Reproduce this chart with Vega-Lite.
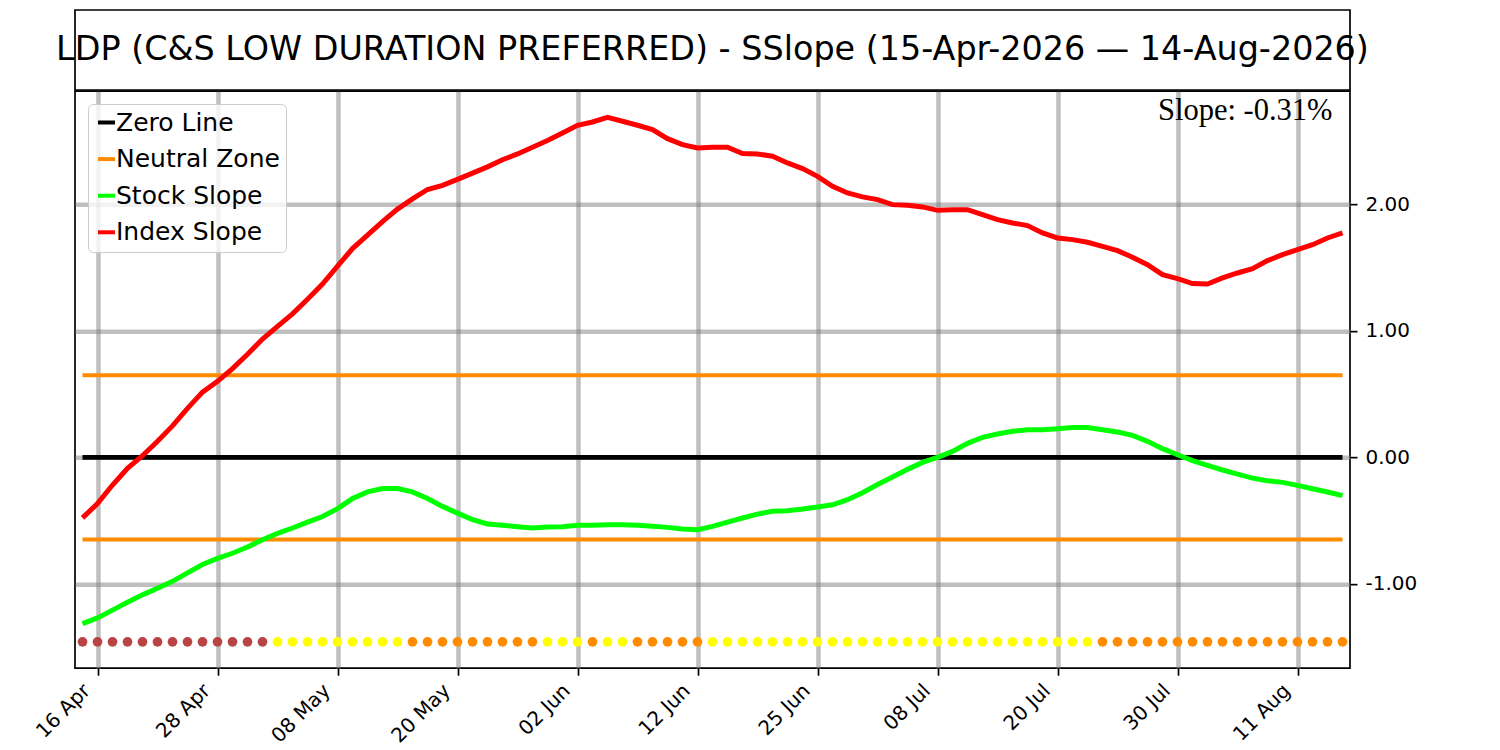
{
  "$schema": "https://vega.github.io/schema/vega-lite/v6.json",
  "background": "white",
  "padding": {"left": 31, "top": 9, "right": 5, "bottom": 5},
  "config": {
    "font": "DejaVu Sans",
    "concat": {"spacing": -0.85},
    "view": {"stroke": "black", "strokeWidth": 1.7}
  },
  "datasets": {
    "slopes": [
      {"date": "2026-04-15", "stock": -1.316, "index": -0.479, "trend": "below"},
      {"date": "2026-04-16", "stock": -1.27, "index": -0.366, "trend": "below"},
      {"date": "2026-04-17", "stock": -1.209, "index": -0.219, "trend": "below"},
      {"date": "2026-04-20", "stock": -1.147, "index": -0.086, "trend": "below"},
      {"date": "2026-04-21", "stock": -1.088, "index": 0.013, "trend": "below"},
      {"date": "2026-04-22", "stock": -1.035, "index": 0.128, "trend": "below"},
      {"date": "2026-04-23", "stock": -0.981, "index": 0.249, "trend": "below"},
      {"date": "2026-04-24", "stock": -0.914, "index": 0.388, "trend": "below"},
      {"date": "2026-04-27", "stock": -0.848, "index": 0.516, "trend": "below"},
      {"date": "2026-04-28", "stock": -0.799, "index": 0.602, "trend": "below"},
      {"date": "2026-04-29", "stock": -0.759, "index": 0.703, "trend": "below"},
      {"date": "2026-04-30", "stock": -0.709, "index": 0.816, "trend": "below"},
      {"date": "2026-05-01", "stock": -0.652, "index": 0.936, "trend": "below"},
      {"date": "2026-05-04", "stock": -0.602, "index": 1.037, "trend": "rising"},
      {"date": "2026-05-05", "stock": -0.559, "index": 1.136, "trend": "rising"},
      {"date": "2026-05-06", "stock": -0.513, "index": 1.251, "trend": "rising"},
      {"date": "2026-05-07", "stock": -0.468, "index": 1.372, "trend": "rising"},
      {"date": "2026-05-08", "stock": -0.406, "index": 1.513, "trend": "rising"},
      {"date": "2026-05-11", "stock": -0.326, "index": 1.652, "trend": "rising"},
      {"date": "2026-05-12", "stock": -0.273, "index": 1.759, "trend": "rising"},
      {"date": "2026-05-13", "stock": -0.246, "index": 1.866, "trend": "rising"},
      {"date": "2026-05-14", "stock": -0.246, "index": 1.965, "trend": "rising"},
      {"date": "2026-05-15", "stock": -0.273, "index": 2.045, "trend": "falling"},
      {"date": "2026-05-18", "stock": -0.326, "index": 2.12, "trend": "falling"},
      {"date": "2026-05-19", "stock": -0.388, "index": 2.152, "trend": "falling"},
      {"date": "2026-05-20", "stock": -0.441, "index": 2.2, "trend": "falling"},
      {"date": "2026-05-21", "stock": -0.492, "index": 2.249, "trend": "falling"},
      {"date": "2026-05-22", "stock": -0.527, "index": 2.299, "trend": "falling"},
      {"date": "2026-05-26", "stock": -0.538, "index": 2.355, "trend": "falling"},
      {"date": "2026-05-27", "stock": -0.549, "index": 2.401, "trend": "falling"},
      {"date": "2026-05-28", "stock": -0.559, "index": 2.454, "trend": "falling"},
      {"date": "2026-05-29", "stock": -0.551, "index": 2.507, "trend": "rising"},
      {"date": "2026-06-01", "stock": -0.549, "index": 2.567, "trend": "rising"},
      {"date": "2026-06-02", "stock": -0.538, "index": 2.628, "trend": "rising"},
      {"date": "2026-06-03", "stock": -0.538, "index": 2.654, "trend": "falling"},
      {"date": "2026-06-04", "stock": -0.533, "index": 2.691, "trend": "rising"},
      {"date": "2026-06-05", "stock": -0.533, "index": 2.66, "trend": "rising"},
      {"date": "2026-06-08", "stock": -0.538, "index": 2.628, "trend": "falling"},
      {"date": "2026-06-09", "stock": -0.546, "index": 2.594, "trend": "falling"},
      {"date": "2026-06-10", "stock": -0.554, "index": 2.522, "trend": "falling"},
      {"date": "2026-06-11", "stock": -0.567, "index": 2.475, "trend": "falling"},
      {"date": "2026-06-12", "stock": -0.573, "index": 2.449, "trend": "falling"},
      {"date": "2026-06-15", "stock": -0.546, "index": 2.454, "trend": "rising"},
      {"date": "2026-06-16", "stock": -0.512, "index": 2.454, "trend": "rising"},
      {"date": "2026-06-17", "stock": -0.48, "index": 2.404, "trend": "rising"},
      {"date": "2026-06-18", "stock": -0.449, "index": 2.401, "trend": "rising"},
      {"date": "2026-06-22", "stock": -0.427, "index": 2.383, "trend": "rising"},
      {"date": "2026-06-23", "stock": -0.422, "index": 2.33, "trend": "rising"},
      {"date": "2026-06-24", "stock": -0.409, "index": 2.285, "trend": "rising"},
      {"date": "2026-06-25", "stock": -0.393, "index": 2.224, "trend": "rising"},
      {"date": "2026-06-26", "stock": -0.375, "index": 2.145, "trend": "rising"},
      {"date": "2026-06-29", "stock": -0.335, "index": 2.092, "trend": "rising"},
      {"date": "2026-06-30", "stock": -0.28, "index": 2.061, "trend": "rising"},
      {"date": "2026-07-01", "stock": -0.215, "index": 2.04, "trend": "rising"},
      {"date": "2026-07-02", "stock": -0.155, "index": 2.0, "trend": "rising"},
      {"date": "2026-07-06", "stock": -0.095, "index": 1.995, "trend": "rising"},
      {"date": "2026-07-07", "stock": -0.04, "index": 1.982, "trend": "rising"},
      {"date": "2026-07-08", "stock": 0.0, "index": 1.955, "trend": "rising"},
      {"date": "2026-07-09", "stock": 0.047, "index": 1.96, "trend": "rising"},
      {"date": "2026-07-10", "stock": 0.111, "index": 1.96, "trend": "rising"},
      {"date": "2026-07-13", "stock": 0.158, "index": 1.921, "trend": "rising"},
      {"date": "2026-07-14", "stock": 0.185, "index": 1.881, "trend": "rising"},
      {"date": "2026-07-15", "stock": 0.206, "index": 1.855, "trend": "rising"},
      {"date": "2026-07-16", "stock": 0.219, "index": 1.834, "trend": "rising"},
      {"date": "2026-07-17", "stock": 0.219, "index": 1.776, "trend": "rising"},
      {"date": "2026-07-20", "stock": 0.227, "index": 1.736, "trend": "rising"},
      {"date": "2026-07-21", "stock": 0.237, "index": 1.723, "trend": "rising"},
      {"date": "2026-07-22", "stock": 0.237, "index": 1.702, "trend": "rising"},
      {"date": "2026-07-23", "stock": 0.219, "index": 1.67, "trend": "falling"},
      {"date": "2026-07-24", "stock": 0.201, "index": 1.636, "trend": "falling"},
      {"date": "2026-07-27", "stock": 0.174, "index": 1.583, "trend": "falling"},
      {"date": "2026-07-28", "stock": 0.127, "index": 1.525, "trend": "falling"},
      {"date": "2026-07-29", "stock": 0.069, "index": 1.446, "trend": "falling"},
      {"date": "2026-07-30", "stock": 0.021, "index": 1.414, "trend": "falling"},
      {"date": "2026-07-31", "stock": -0.026, "index": 1.375, "trend": "falling"},
      {"date": "2026-08-03", "stock": -0.063, "index": 1.372, "trend": "falling"},
      {"date": "2026-08-04", "stock": -0.1, "index": 1.42, "trend": "falling"},
      {"date": "2026-08-05", "stock": -0.132, "index": 1.459, "trend": "falling"},
      {"date": "2026-08-06", "stock": -0.164, "index": 1.493, "trend": "falling"},
      {"date": "2026-08-07", "stock": -0.185, "index": 1.557, "trend": "falling"},
      {"date": "2026-08-10", "stock": -0.198, "index": 1.604, "trend": "falling"},
      {"date": "2026-08-11", "stock": -0.222, "index": 1.644, "trend": "falling"},
      {"date": "2026-08-12", "stock": -0.248, "index": 1.683, "trend": "falling"},
      {"date": "2026-08-13", "stock": -0.274, "index": 1.736, "trend": "falling"},
      {"date": "2026-08-14", "stock": -0.303, "index": 1.776, "trend": "falling"}
    ]
  },
  "vconcat": [
    {
      "width": 1275,
      "height": 80,
      "data": {"values": [{"title": "LDP (C&S LOW DURATION PREFERRED) - SSlope (15-Apr-2026 — 14-Aug-2026)"}]},
      "layer": [
        {
          "mark": {"type": "rect", "fill": "white", "stroke": "black", "strokeWidth": 1.7}
        },
        {
          "mark": {"type": "text", "font": "DejaVu Sans", "fontSize": 33.4, "align": "center", "baseline": "middle", "color": "black"},
          "encoding": {"text": {"field": "title", "type": "nominal"}}
        }
      ]
    },
    {
      "width": 1275,
      "height": 577,
      "data": {"name": "slopes"},
      "encoding": {
        "x": {
          "field": "date",
          "type": "ordinal",
          "sort": null,
          "scale": {"type": "point", "padding": 0.5},
          "axis": {
            "title": null,
            "values": ["2026-04-16", "2026-04-28", "2026-05-08", "2026-05-20", "2026-06-02", "2026-06-12", "2026-06-25", "2026-07-08", "2026-07-20", "2026-07-30", "2026-08-11"],
            "labelExpr": "utcFormat(utcParse(datum.value, '%Y-%m-%d'), '%d %b')",
            "labelAngle": -45,
            "labelFontSize": 20,
            "labelColor": "black",
            "labelPadding": 5,
            "labelOffset": -18,
            "grid": true,
            "gridColor": "#808080",
            "gridOpacity": 0.5,
            "gridWidth": 4.5,
            "domain": false,
            "tickColor": "black",
            "tickSize": 7,
            "tickWidth": 1.7
          }
        },
        "y": {
          "type": "quantitative",
          "scale": {"domain": [-1.668, 2.898], "nice": false, "zero": false},
          "axis": {
            "title": null,
            "orient": "right",
            "values": [-1, 0, 1, 2],
            "labelExpr": "replace(format(datum.value, '.2f'), '−', '-')",
            "labelFontSize": 20,
            "labelColor": "black",
            "labelPadding": 8,
            "grid": true,
            "gridColor": "#808080",
            "gridOpacity": 0.5,
            "gridWidth": 4.5,
            "domain": false,
            "tickColor": "black",
            "tickSize": 7,
            "tickWidth": 1.7
          }
        }
      },
      "layer": [
        {
          "mark": {"type": "line", "strokeWidth": 4.7},
          "encoding": {
            "y": {"datum": 0},
            "color": {
              "datum": "Zero Line",
              "scale": {
                "domain": ["Zero Line", "Neutral Zone", "Stock Slope", "Index Slope"],
                "range": ["#000000", "#ff8c00", "#00ff00", "#ff0000"]
              },
              "legend": {
                "title": null,
                "orient": "none",
                "legendX": 13,
                "legendY": 94,
                "symbolType": "stroke",
                "symbolSize": 289,
                "symbolStrokeWidth": 4,
                "symbolOpacity": 1,
                "labelFont": "DejaVu Sans",
                "labelFontSize": 25,
                "labelColor": "black",
                "labelLimit": 300,
                "labelOffset": -3,
                "rowPadding": 10.6,
                "padding": 6,
                "fillColor": "rgba(255,255,255,0.8)",
                "strokeColor": "#cccccc",
                "cornerRadius": 5
              }
            }
          }
        },
        {
          "mark": {"type": "line", "strokeWidth": 3.8},
          "encoding": {
            "y": {"datum": 0.65},
            "color": {"datum": "Neutral Zone"}
          }
        },
        {
          "mark": {"type": "line", "strokeWidth": 3.8},
          "encoding": {
            "y": {"datum": -0.65},
            "color": {"datum": "Neutral Zone"}
          }
        },
        {
          "mark": {"type": "line", "strokeWidth": 5},
          "encoding": {
            "y": {"field": "stock", "type": "quantitative"},
            "color": {"datum": "Stock Slope"}
          }
        },
        {
          "mark": {"type": "line", "strokeWidth": 5},
          "encoding": {
            "y": {"field": "index", "type": "quantitative"},
            "color": {"datum": "Index Slope"}
          }
        },
        {
          "mark": {"type": "circle", "size": 95, "opacity": 1, "strokeWidth": 0},
          "encoding": {
            "y": {"datum": -1.46},
            "fill": {
              "field": "trend",
              "type": "nominal",
              "scale": {"domain": ["below", "rising", "falling"], "range": ["#b84444", "#ffff00", "#ff8c00"]},
              "legend": null
            }
          }
        },
        {
          "transform": [{"filter": "datum.date == '2026-08-14'"}],
          "mark": {"type": "text", "font": "Liberation Serif", "fontSize": 30.5, "align": "right", "baseline": "alphabetic", "dx": -10, "color": "black"},
          "encoding": {
            "y": {"datum": 2.672},
            "text": {"value": "Slope: -0.31%"}
          }
        }
      ]
    }
  ]
}
